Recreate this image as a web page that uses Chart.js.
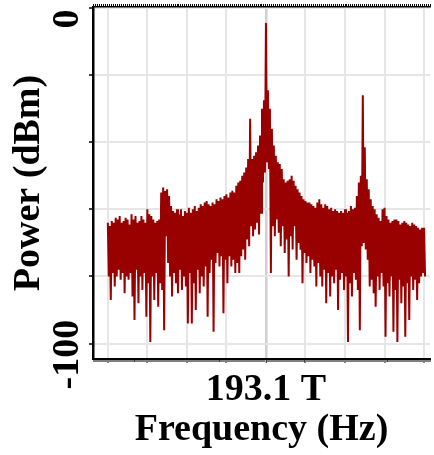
<!DOCTYPE html>
<html>
    <head>
        <title>Power Spectrum</title>
        <style>
            body
            {
                margin: 0;
                background: #ffffff;
            }

            #chartWrapper
            {
                width: 434px;
                height: 455px;
            }
        </style>
        <script src="https://cdn.jsdelivr.net/npm/chart.js"></script>
        <script>
            // one bin per unit, 20 units between grid lines, 0 = 193.1 THz
            const binStart = -80;

            // upper edge of the trace in each bin (dBm)
            const powerTop = [
                -64, -65, -63.5, -64, -62.5, -63, -62, -64, -63.5, -62.5,
                -63, -64.5, -61.5, -63, -62, -64, -63.5, -62, -63, -64,
                -60, -61.5, -62, -63, -64, -63.5, -63, -55, -53.5, -54.5,
                -54, -56, -59, -60.5, -61, -60, -61.5, -60, -62, -60.5,
                -61, -59.5, -61, -60, -59, -60.5, -59.5, -58.5, -59, -58,
                -57.5, -58.5, -59, -58, -58.5, -57, -57.5, -56.5, -57, -56,
                -55.5, -56.5, -55, -54.5, -55, -53, -52, -51.5, -50, -49,
                -47.5, -45, -33, -45, -44, -43, -41, -38, -30, -27.5,
                -4.5, -24.5, -30, -36, -41, -44, -46, -46.5, -48, -51,
                -52, -51.5, -51, -50, -51.5, -53, -54, -55, -56, -57,
                -57.5, -58, -58, -58.5, -59, -59.5, -58, -57, -58.5, -59.5,
                -58.5, -59, -60, -59.5, -60.5, -60, -60.5, -61, -60.5, -61,
                -60, -61, -60.5, -59, -60, -59.5, -56, -52, -50, -26,
                -41.5, -51, -54, -57, -59, -60, -61.5, -62.5, -63.5, -60,
                -59.5, -62, -63, -64, -63.5, -63, -63, -63.5, -64.5, -64,
                -63.5, -64, -64.5, -65, -64, -64.5, -65, -65.5, -66, -65.5,
                -65.5
            ];

            // lower edge of the trace in each bin (dBm)
            const powerBottom = [
                -80, -87, -79, -83, -80, -78, -81, -79, -85, -80,
                -81, -79, -86, -93, -78, -88, -80, -84, -79, -92,
                -82, -99.5, -80, -87, -79, -89, -82, -84, -96, -68,
                -76, -80, -86, -79, -82, -85, -78, -84, -80, -83,
                -94, -79, -94, -82, -90, -78, -85, -80, -83, -77,
                -92, -79, -75, -96.5, -76, -73, -77, -74, -91, -75,
                -82, -74, -77, -75, -79, -76, -79, -74, -72, -75,
                -69, -71, -65, -68, -66, -64, -67.5, -61, -52, -49,
                -46, -48, -79, -65, -68, -63, -67, -71, -65, -73,
                -69, -80, -68, -72, -65, -75, -70, -72, -82, -73,
                -76, -74, -79, -75, -77, -83, -76, -80, -83, -78,
                -88, -79, -86, -80, -82, -78, -90, -81, -79, -84,
                -80, -99.5, -82, -86, -79, -81, -84, -96, -71, -70,
                -72, -75, -83, -81, -85, -89, -80, -84, -79, -83,
                -98, -82, -86, -80, -96.5, -84, -99.5, -81, -88, -83,
                -98, -82, -93, -80, -84, -81, -87, -82, -80, -79,
                -80
            ];

            const xTickValues = [-80, -60, -40, -20, 0, 20, 40, 60, 80];
            const xTickLabels = ["", "", "", "", "193.1 T", "", "", "", ""];
            const yTickValues = [0, -20, -40, -60, -80, -100];
            const yTickLabels = ["0", "", "", "", "", "-100"];

            const serif = '"Liberation Serif", "Times New Roman", serif';
            const xMin = -87.5;
            const xMax = 83;

            function minorTicks(scale)
            {
                let t = [];
                for (let v = -87; v <= 83; v++)
                    t.push({value: v});
                scale.ticks = t;
            }

            function isMajor(v)
            {
                return xTickValues.indexOf(v) >= 0;
            }

            // rotated y labels, placed off the y scale
            const yLabels = {
                id: "yLabels",
                afterDraw(chart)
                {
                    const s = chart.scales.y;
                    const ctx = chart.ctx;
                    ctx.save();
                    ctx.font = "bold 38px " + serif;
                    ctx.fillStyle = "#000";
                    ctx.textAlign = "center";
                    ctx.textBaseline = "middle";
                    yTickValues.forEach((v, i) => {
                        if (!yTickLabels[i]) return;
                        ctx.save();
                        ctx.translate(68.5, s.getPixelForValue(v) + 11);
                        ctx.rotate(-Math.PI / 2);
                        ctx.fillText(yTickLabels[i], 0, 0);
                        ctx.restore();
                    });
                    ctx.restore();
                }
            };

            function init()
            {
                let pts = [];
                powerTop.forEach((v, i) => {
                    pts.push({x: binStart + i, y: v});
                    pts.push({x: binStart + i + 0.5, y: powerBottom[i]});
                });

                const chartHTML = document.getElementById("spectrum");
                new Chart(chartHTML, {
                    type: "line",
                    data: {
                        datasets: [{
                            data: pts,
                            borderColor: "#990000",
                            borderWidth: 2,
                            pointRadius: 0,
                            tension: 0,
                            fill: false
                        }]
                    },
                    plugins: [yLabels],
                    options: {
                        responsive: true,
                        maintainAspectRatio: false,
                        animation: false,
                        layout: {padding: {top: 4, right: 0, bottom: 0, left: 0}},
                        plugins: {
                            legend: {display: false},
                            tooltip: {enabled: false}
                        },
                        scales: {
                            x: {
                                type: "linear",
                                position: "bottom",
                                min: xMin,
                                max: xMax,
                                afterBuildTicks: minorTicks,
                                afterFit: s => { s.height = 96; },
                                ticks: {
                                    autoSkip: false,
                                    maxRotation: 0,
                                    minRotation: 0,
                                    padding: 4,
                                    color: "#000",
                                    font: {family: serif, size: 38, weight: "bold"},
                                    callback: v => {
                                        let k = xTickValues.indexOf(v);
                                        return k >= 0 ? xTickLabels[k] : "";
                                    }
                                },
                                grid: {
                                    color: c => c.tick && c.tick.value === 0 ? "#d0d0d0" : (c.tick && isMajor(c.tick.value) ? "#e6e6e6" : "rgba(0,0,0,0)"),
                                    lineWidth: c => c.tick && c.tick.value === 0 ? 2.5 : 2,
                                    tickColor: "#000",
                                    tickLength: 4,
                                    tickWidth: 1,
                                    tickBorderDash: c => c.tick && isMajor(c.tick.value) ? [] : [2, 20]
                                },
                                border: {color: "#000", width: 2},
                                title: {
                                    display: true,
                                    text: "Frequency (Hz)",
                                    color: "#000",
                                    font: {family: serif, size: 38, weight: "bold"},
                                    padding: {top: 0, bottom: 2}
                                }
                            },
                            xTop: {
                                type: "linear",
                                position: "top",
                                min: xMin,
                                max: xMax,
                                afterBuildTicks: minorTicks,
                                ticks: {display: false, autoSkip: false},
                                grid: {
                                    drawOnChartArea: false,
                                    tickColor: "#000",
                                    tickLength: 3,
                                    tickWidth: 1
                                },
                                border: {color: "#000", width: 1.5}
                            },
                            y: {
                                type: "linear",
                                min: -104.6,
                                max: 0.3,
                                afterBuildTicks: s => { s.ticks = yTickValues.map(v => ({value: v})); },
                                afterFit: s => { s.width = 93; },
                                ticks: {display: false},
                                grid: {
                                    color: "#e6e6e6",
                                    lineWidth: 2,
                                    tickColor: "#000",
                                    tickLength: 4,
                                    tickWidth: 1.5
                                },
                                border: {color: "#000", width: 2.5},
                                title: {
                                    display: true,
                                    text: "Power (dBm)",
                                    color: "#000",
                                    font: {family: serif, size: 38, weight: "bold"},
                                    padding: {top: 6, bottom: 0}
                                }
                            }
                        }
                    }
                });
            }
        </script>
    </head>
    <body onload="init();">
        <div id="chartWrapper">
            <canvas id="spectrum"></canvas>
        </div>
    </body>
</html>
